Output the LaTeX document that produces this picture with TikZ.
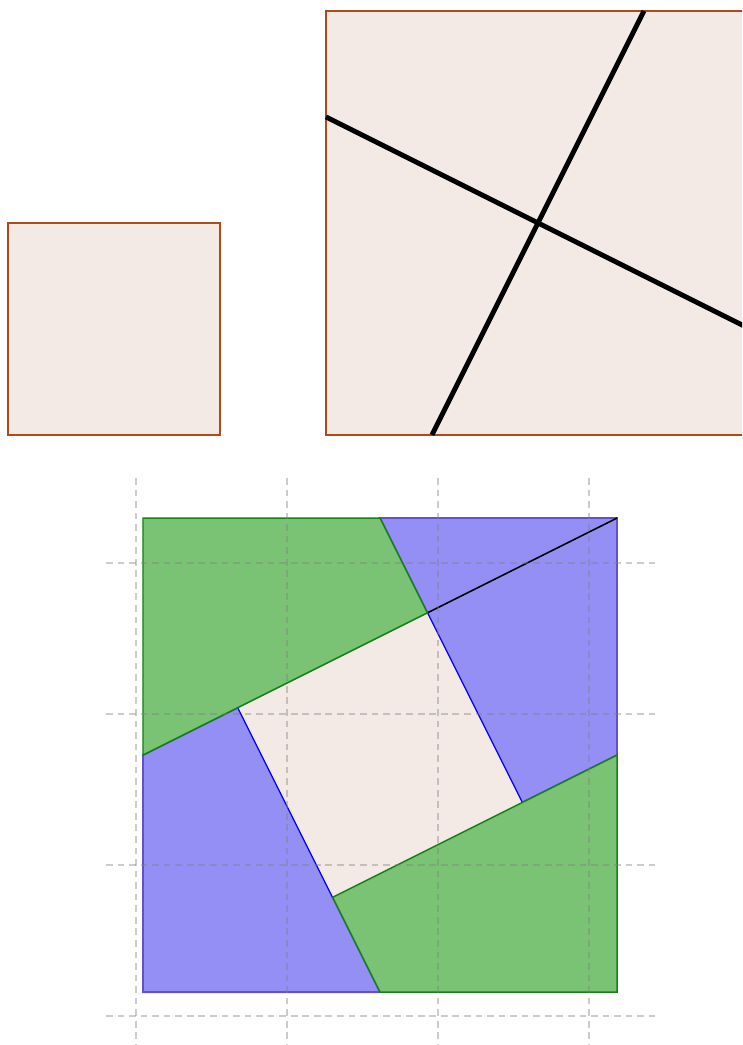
\documentclass[tikz,border=0pt]{standalone}
\usetikzlibrary{calc}
\definecolor{sqfill}{RGB}{243,234,229}
\definecolor{sqedge}{RGB}{178,74,24}
\definecolor{piecegreen}{RGB}{122,194,116}
\definecolor{pieceblue}{RGB}{147,143,244}
\definecolor{edgegreen}{RGB}{20,130,20}
\definecolor{edgeblue}{RGB}{100,80,205}
\tikzset{
    sqbox/.style={fill=sqfill, draw=sqedge, line width=0.4pt},
    greenpiece/.style={fill=piecegreen, draw=edgegreen, line width=0.4pt},
    bluepiece/.style={fill=pieceblue, draw=edgeblue, line width=0.5pt},
    gridline/.style={gray, opacity=0.4, line width=0.3pt, dash pattern=on 1.8pt off 1.3pt}
}
\begin{document}
\begin{tikzpicture}
    \useasboundingbox (-0.075,-5.755) rectangle (6.925,4.103);
    \clip (-0.075,-5.755) rectangle (6.925,4.103);
    % the two squares
    \filldraw[sqbox] (0,0) rectangle (2,2);
    \filldraw[sqbox] (3,0) rectangle (7,4);
    \draw[line width=1.3pt] (3,3) -- (7,1);
    \draw[line width=1.3pt] (4,0) -- (6,4);
    % the pieces put together
    \pgfmathsetmacro{\h}{sqrt(5)}
    \pgfmathsetmacro{\p}{1/sqrt(5)}
    \coordinate (c) at (3.51,-3.02);
    \coordinate (tl) at ($(c)+(-\h,\h)$);
    \coordinate (tr) at ($(c)+(\h,\h)$);
    \coordinate (br) at ($(c)+(\h,-\h)$);
    \coordinate (bl) at ($(c)+(-\h,-\h)$);
    \coordinate (tm) at ($(c)+(0,\h)$);
    \coordinate (rm) at ($(c)+(\h,0)$);
    \coordinate (bm) at ($(c)+(0,-\h)$);
    \coordinate (lm) at ($(c)+(-\h,0)$);
    \coordinate (v1) at ($(c)+(\p,3*\p)$);
    \coordinate (v2) at ($(c)+(3*\p,-\p)$);
    \coordinate (v3) at ($(c)+(-\p,-3*\p)$);
    \coordinate (v4) at ($(c)+(-3*\p,\p)$);
    \filldraw[bluepiece] (tr) -- (rm) -- (v2) -- (tm) -- cycle;
    \filldraw[bluepiece] (bl) -- (lm) -- (v4) -- (bm) -- cycle;
    \fill[sqfill] (v1) -- (v2) -- (v3) -- (v4) -- cycle;
    \draw[blue, line width=0.3pt] (v1) -- (v2);
    \draw[blue, line width=0.3pt] (v4) -- (v3);
    \draw[line width=0.4pt] (v1) -- (tr);
    \filldraw[greenpiece] (tl) -- (tm) -- (v1) -- (lm) -- cycle;
    \filldraw[greenpiece] (br) -- (bm) -- (v3) -- (rm) -- cycle;
    % dashed grid
    \foreach \k in {0,...,3} {
        \draw[gridline] (1.208+1.4245*\k,-0.406) -- (1.208+1.4245*\k,-5.8);
        \draw[gridline] (0.925,-1.208-1.4245*\k) -- (6.104,-1.208-1.4245*\k);
    }
\end{tikzpicture}
\end{document}
